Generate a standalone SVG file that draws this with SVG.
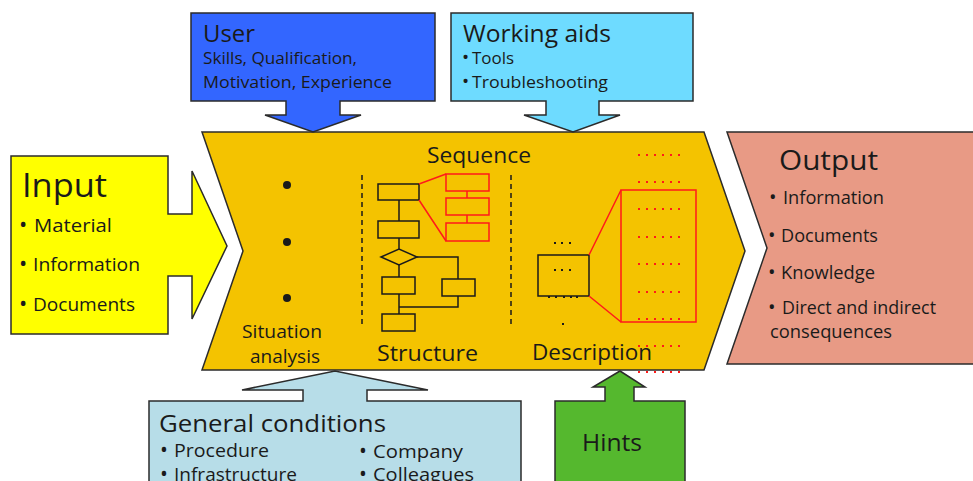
<svg xmlns="http://www.w3.org/2000/svg" width="973" height="481" viewBox="0 0 973 481">
<style>
.shape{stroke:#2b2b2b;stroke-width:1.5;stroke-linejoin:miter}
text{font-family:"Open Sans",Lato,"Liberation Sans",sans-serif;fill:#1a1a1a}
.fc{fill:none;stroke:#1a1a1a;stroke-width:1.5}
.red{fill:none;stroke:#ff1a1a;stroke-width:1.5}
.rdots{fill:none;stroke:#ff1a1a;stroke-width:2;stroke-dasharray:2 6}
.dash{fill:none;stroke:#1a1a1a;stroke-width:1.5;stroke-dasharray:5 4}
</style>
<rect width="973" height="481" fill="#ffffff"/>

<g id="process">
  <path class="shape" d="M202,132 H704 L745,251 L704,370 H202 L243,251 Z" fill="#F4C300"/>
  <text x="427" y="163" font-size="22.5" textLength="104" lengthAdjust="spacingAndGlyphs">Sequence</text>
  <circle cx="287" cy="185" r="4" fill="#1a1a1a"/>
  <circle cx="287" cy="242" r="4" fill="#1a1a1a"/>
  <circle cx="287" cy="298" r="4" fill="#1a1a1a"/>
  <text x="242" y="338" font-size="18.5" textLength="80" lengthAdjust="spacingAndGlyphs">Situation</text>
  <text x="250" y="363" font-size="18.5" textLength="70" lengthAdjust="spacingAndGlyphs">analysis</text>
  <line class="dash" x1="362" y1="175" x2="362" y2="328"/>
  <line class="dash" x1="511" y1="175" x2="511" y2="328"/>
  <text x="377" y="361" font-size="22.5" textLength="101" lengthAdjust="spacingAndGlyphs">Structure</text>
  <text x="532" y="360" font-size="22.5" textLength="120" lengthAdjust="spacingAndGlyphs">Description</text>
  <g id="flowchart">
    <rect class="fc" x="378" y="184" width="41" height="16"/>
    <rect class="fc" x="378" y="221" width="41" height="17"/>
    <path class="fc" d="M399,200 V221 M399,238 V249 M399,265 V277 M399,294 V314"/>
    <path class="fc" d="M381,257 L399,249 L417,257 L399,265 Z"/>
    <path class="fc" d="M417,257 H458 V279"/>
    <rect class="fc" x="382" y="277" width="33" height="17"/>
    <rect class="fc" x="442" y="279" width="33" height="17"/>
    <rect class="fc" x="382" y="314" width="33" height="17"/>
    <path class="fc" d="M458,296 V307 H399"/>
    <rect class="red" x="446" y="174" width="43" height="17"/>
    <rect class="red" x="446" y="198" width="43" height="17"/>
    <rect class="red" x="446" y="223" width="43" height="18"/>
    <path class="red" d="M467,191 V198 M467,215 V223 M419,184 L446,174 M419,200 L446,241"/>
  </g>
  <g id="description">
    <rect class="fc" x="538" y="255" width="51" height="41"/>
    <g fill="#1a1a1a">
      <rect x="554" y="242" width="2" height="2"/><rect x="561" y="242" width="2" height="2"/><rect x="569" y="242" width="2" height="2"/>
      <rect x="554" y="269" width="2" height="2"/><rect x="561" y="269" width="2" height="2"/><rect x="569" y="269" width="2" height="2"/>
      <rect x="548" y="296" width="2" height="2"/><rect x="555" y="296" width="2" height="2"/><rect x="563" y="296" width="2" height="2"/><rect x="570" y="296" width="2" height="2"/><rect x="576" y="296" width="2" height="2"/>
      <rect x="562" y="323" width="2" height="2"/>
    </g>
    <rect class="red" x="621" y="190" width="75" height="132"/>
    <path class="red" d="M589,255 L621,190 M589,296 L621,322"/>
    <path class="rdots" d="M638,155 H680 M638,182 H680 M638,209 H680 M638,237 H680 M638,264 H680 M638,292 H680 M638,319 H680 M638,346 H680 M638,372 H680"/>
  </g>
</g>

<g id="input">
  <path class="shape" d="M11,156 H168 V214 H192 V171 L227,246 L192,319 V276 H168 V334 H11 Z" fill="#FFFF00"/>
  <text x="22" y="197" font-size="32" textLength="85" lengthAdjust="spacingAndGlyphs">Input</text>
  <text x="19" y="232" font-size="22">•</text><text x="34" y="232" font-size="19" textLength="78" lengthAdjust="spacingAndGlyphs">Material</text>
  <text x="19" y="271" font-size="22">•</text><text x="33" y="271" font-size="19" textLength="107" lengthAdjust="spacingAndGlyphs">Information</text>
  <text x="19" y="311" font-size="22">•</text><text x="33" y="311" font-size="19" textLength="102" lengthAdjust="spacingAndGlyphs">Documents</text>
</g>

<g id="output">
  <path class="shape" d="M727,132 H975 V364 H727 L767,248 Z" fill="#E89A85"/>
  <text x="779" y="170" font-size="28" textLength="99" lengthAdjust="spacingAndGlyphs">Output</text>
  <text x="769" y="204" font-size="20">•</text><text x="783" y="204" font-size="17.5" textLength="101" lengthAdjust="spacingAndGlyphs">Information</text>
  <text x="768" y="242" font-size="20">•</text><text x="781" y="242" font-size="17.5" textLength="97" lengthAdjust="spacingAndGlyphs">Documents</text>
  <text x="768" y="279" font-size="20">•</text><text x="781" y="279" font-size="17.5" textLength="94" lengthAdjust="spacingAndGlyphs">Knowledge</text>
  <text x="768" y="314" font-size="20">•</text><text x="782" y="314" font-size="17.5" textLength="154" lengthAdjust="spacingAndGlyphs">Direct and indirect</text>
  <text x="770" y="338" font-size="17.5" textLength="122" lengthAdjust="spacingAndGlyphs">consequences</text>
</g>

<g id="user">
  <path class="shape" d="M191,13 H435 V101 H340 V115 H361 L313,132 L265,115 H286 V101 H191 Z" fill="#3366FF"/>
  <text x="203" y="42" font-size="23" textLength="52" lengthAdjust="spacingAndGlyphs">User</text>
  <text x="203" y="64" font-size="16.5" textLength="154" lengthAdjust="spacingAndGlyphs">Skills, Qualification,</text>
  <text x="203" y="88" font-size="16.5" textLength="189" lengthAdjust="spacingAndGlyphs">Motivation, Experience</text>
</g>

<g id="working-aids">
  <path class="shape" d="M451,13 H693 V101 H599 V115 H620 L573,132 L524,115 H546 V101 H451 Z" fill="#6EDBFF"/>
  <text x="463" y="42" font-size="23" textLength="148" lengthAdjust="spacingAndGlyphs">Working aids</text>
  <text x="462" y="64" font-size="19">•</text><text x="472" y="64" font-size="17" textLength="42" lengthAdjust="spacingAndGlyphs">Tools</text>
  <text x="462" y="88" font-size="19">•</text><text x="472" y="88" font-size="17" textLength="136" lengthAdjust="spacingAndGlyphs">Troubleshooting</text>
</g>

<g id="general-conditions">
  <path class="shape" d="M149,484 V401 H303 V390 H242 L335,371 L428,390 H367 V401 H521 V484" fill="#B7DDE8"/>
  <text x="159" y="432" font-size="24" textLength="227" lengthAdjust="spacingAndGlyphs">General conditions</text>
  <text x="160" y="457" font-size="21">•</text><text x="174" y="457" font-size="19" textLength="95" lengthAdjust="spacingAndGlyphs">Procedure</text>
  <text x="160" y="481" font-size="21">•</text><text x="174" y="481" font-size="19" textLength="123" lengthAdjust="spacingAndGlyphs">Infrastructure</text>
  <text x="359" y="458" font-size="21">•</text><text x="373" y="458" font-size="19" textLength="90" lengthAdjust="spacingAndGlyphs">Company</text>
  <text x="359" y="481" font-size="21">•</text><text x="373" y="481" font-size="19" textLength="101" lengthAdjust="spacingAndGlyphs">Colleagues</text>
</g>

<g id="hints">
  <path class="shape" d="M555,484 V401 H605 V387 H593 L620,371 L645,387 H634 V401 H685 V484" fill="#55B82E"/>
  <text x="582" y="451" font-size="23" textLength="60" lengthAdjust="spacingAndGlyphs">Hints</text>
</g>

<g id="connectors"></g>
</svg>
